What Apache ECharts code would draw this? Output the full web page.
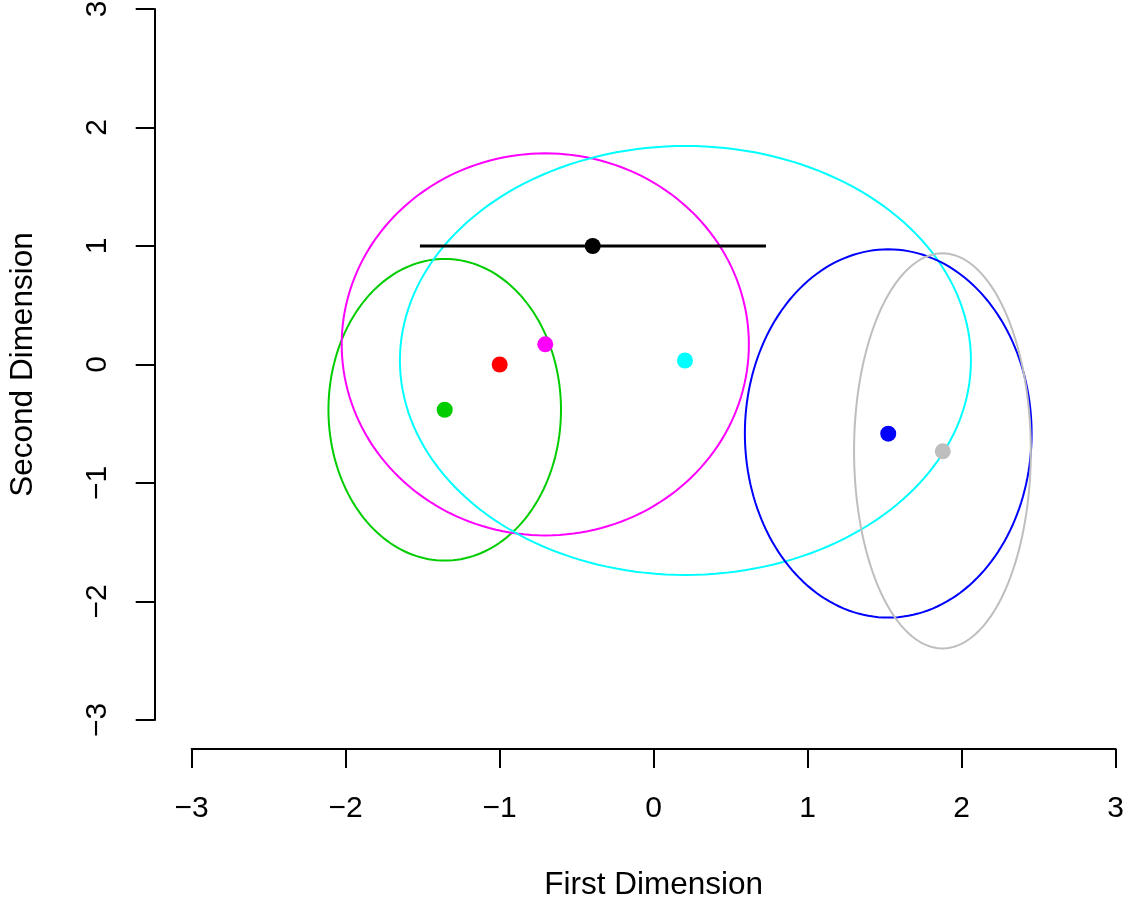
<!DOCTYPE html>
<html>
<head>
<meta charset="utf-8">
<script src="https://cdn.jsdelivr.net/npm/echarts@6/dist/echarts.min.js"></script>
<style>
html, body { margin: 0; padding: 0; background: #fff; }
#main { width: 1128px; height: 898px; }
</style>
</head>
<body>
<div id="main"></div>
<script>
// group colours (R palette)
var groupColors = ['#FF0000', '#00CD00', '#FF00FF', '#00FFFF', '#0000FF', '#BEBEBE'];
// group points
var pointX = [-1.00, -1.357, -0.704, 0.203, 1.523, 1.877];
var pointY = [0.00, -0.382, 0.170, 0.034, -0.584, -0.733];
// ellipses (centre, half axes) -- red has none
var ellCx = [-1.357, -0.704, 0.206, 1.523, 1.875];
var ellCy = [-0.382, 0.170, 0.034, -0.582, -0.729];
var ellRx = [0.755, 1.322, 1.854, 0.931, 0.574];
var ellRy = [1.273, 1.612, 1.810, 1.554, 1.667];
var ellColors = ['#00CD00', '#FF00FF', '#00FFFF', '#0000FF', '#BEBEBE'];
// black reference point with horizontal interval
var refX = -0.396, refY = 1.0;
var refLo = -1.518, refHi = 0.729;
var ticks = [-3, -2, -1, 0, 1, 2, 3];

var FONT = 'Liberation Sans, Arial, sans-serif';

function fmt(v) { return String(v).replace('-', '\u2212'); }

var chart = echarts.init(document.getElementById('main'));

var ellData = [];
for (var i = 0; i < ellCx.length; i++) {
	ellData.push([ellCx[i], ellCy[i], ellRx[i], ellRy[i], i]);
}
var ptData = [];
for (var j = 0; j < pointX.length; j++) {
	ptData.push({ value: [pointX[j], pointY[j]], itemStyle: { color: groupColors[j] } });
}

var option = {
	backgroundColor: '#fff',
	animation: false,
	grid: { left: 191.7, right: 12.3, top: 9, bottom: 178, outerBoundsMode: 'none', containLabel: false },
	xAxis: {
		type: 'value', min: ticks[0], max: ticks[ticks.length - 1], interval: 1,
		offset: 29,
		name: 'First Dimension', nameLocation: 'middle', nameGap: 120,
		nameTextStyle: { fontFamily: FONT, fontSize: 31.5, color: '#000' },
		axisLine: { show: true, onZero: false, lineStyle: { color: '#000', width: 2 } },
		axisTick: { show: true, length: 19, lineStyle: { color: '#000', width: 2 } },
		axisLabel: { margin: 45, fontFamily: FONT, fontSize: 30, color: '#000', formatter: fmt },
		splitLine: { show: false }
	},
	yAxis: {
		type: 'value', min: ticks[0], max: ticks[ticks.length - 1], interval: 1,
		offset: 37,
		name: 'Second Dimension', nameLocation: 'middle', nameRotate: 90, nameGap: 115,
		nameTextStyle: { fontFamily: FONT, fontSize: 31.5, color: '#000' },
		axisLine: { show: true, onZero: false, lineStyle: { color: '#000', width: 2 } },
		axisTick: { show: true, length: 19, lineStyle: { color: '#000', width: 2 } },
		axisLabel: { margin: 42, rotate: 90, fontFamily: FONT, fontSize: 30, color: '#000', formatter: fmt },
		splitLine: { show: false }
	},
	series: [
		{
			type: 'custom',
			data: ellData,
			renderItem: function (params, api) {
				var c = api.coord([api.value(0), api.value(1)]);
				var s = api.size([api.value(2), api.value(3)]);
				var pts = [];
				for (var k = 0; k <= 180; k++) {
					var t = k / 180 * Math.PI * 2;
					pts.push([c[0] + s[0] * Math.cos(t), c[1] + s[1] * Math.sin(t)]);
				}
				return {
					type: 'polygon',
					shape: { points: pts },
					style: { fill: 'none', stroke: ellColors[api.value(4)], lineWidth: 2 }
				};
			},
			z: 2
		},
		{
			type: 'line',
			data: [[refLo, refY], [refHi, refY]],
			symbol: 'none',
			lineStyle: { color: '#000', width: 3 },
			z: 3
		},
		{
			type: 'scatter',
			data: ptData,
			symbolSize: 16,
			itemStyle: { opacity: 1 },
			z: 4
		},
		{
			type: 'scatter',
			data: [[refX, refY]],
			symbolSize: 16,
			itemStyle: { color: '#000', opacity: 1 },
			z: 4
		}
	]
};
chart.setOption(option);
</script>
</body>
</html>
